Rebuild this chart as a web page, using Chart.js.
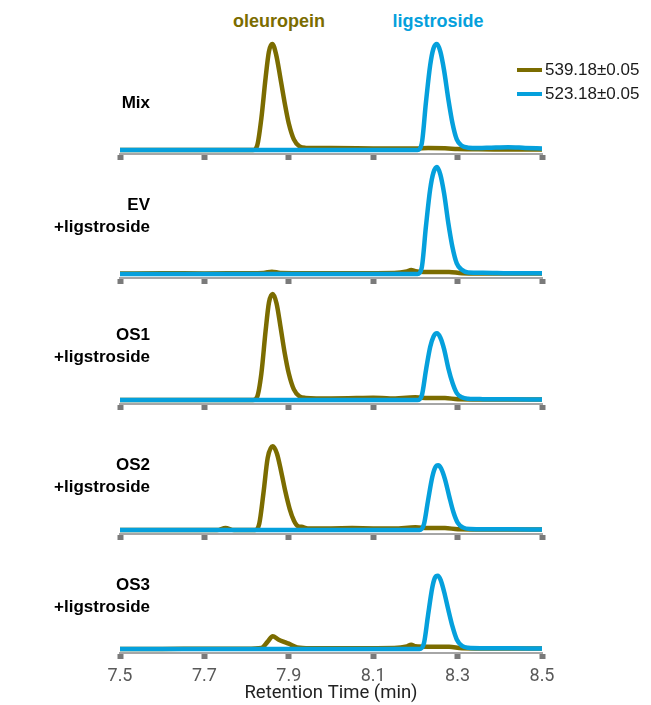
<!DOCTYPE html>
<html>
<head>
<meta charset="utf-8">
<title>Retention time traces</title>
<script src="https://cdn.jsdelivr.net/npm/chart.js@4.4.1/dist/chart.umd.min.js"></script>
<style>
 html,body{margin:0;padding:0;background:#fff;}
 #wrap{position:relative;width:651px;height:705px;overflow:hidden;font-family:"Liberation Sans",Arial,sans-serif;}
 #wrap canvas{position:absolute;left:0;}
 .plab{position:absolute;left:0;width:150px;text-align:right;font-weight:bold;font-size:17px;line-height:22px;color:#000;}
 .peak{position:absolute;font-weight:bold;font-size:18px;line-height:22px;transform:translateX(-50%);white-space:nowrap;}
 .leg{position:absolute;left:517px;height:22px;line-height:22px;font-size:17px;color:#1a1a1a;white-space:nowrap;}
 .leg i{display:inline-block;width:25px;height:4px;vertical-align:middle;margin-right:3px;position:relative;top:-1px;}
</style>
</head>
<body>
<div id="wrap"></div>
<script>
/* ---------------- data ---------------- */
const TICKS=[7.5,7.7,7.9,8.1,8.3,8.5];
const SERIES=["539.18\u00b10.05","523.18\u00b10.05"];
const PEAK_NAMES=["oleuropein","ligstroside"];
const PANEL_LABELS=[["Mix"],["EV","+ligstroside"],["OS1","+ligstroside"],["OS2","+ligstroside"],["OS3","+ligstroside"]];

// 539.18 (oleuropein) traces
const T_OLE_MIX=[7.50,7.60,7.70,7.80,7.815,7.825,7.835,7.845,7.853,7.861,7.870,7.880,7.890,7.900,7.912,7.925,7.94,8.00,8.10,8.20,8.23,8.27,8.30,8.35,8.40,8.50];
const Y_OLE_MIX=[0,0,0,0,0,4,30,68,93,100,90,68,45,25,10,3.5,2,1.8,1.5,1.3,1.8,1.6,1.0,0.6,0.5,0.4];
const T_OLE_EV=[7.50,7.60,7.70,7.80,7.84,7.86,7.88,7.95,8.05,8.15,8.18,8.19,8.20,8.22,8.28,8.31,8.40,8.50];
const Y_OLE_EV=[0.4,0.7,0.5,0.8,1.0,2.2,1.0,0.8,0.8,1.0,2.5,3.8,2.6,2.0,2.0,0.8,0.5,0.5];
const T_OLE_OS1=[7.50,7.60,7.70,7.80,7.815,7.825,7.835,7.845,7.853,7.862,7.871,7.880,7.890,7.900,7.912,7.925,7.94,8.00,8.06,8.10,8.14,8.20,8.23,8.27,8.30,8.40,8.50];
const Y_OLE_OS1=[0,0,0,0,0,3,25,65,92,100,91,70,45,25,10,3.5,2,1.5,1.8,2.2,1.5,2.5,1.8,1.8,0.8,0.5,0.4];
const T_OLE_OS2=[7.50,7.60,7.73,7.75,7.77,7.80,7.82,7.83,7.84,7.85,7.862,7.872,7.882,7.892,7.902,7.912,7.922,7.93,7.945,8.00,8.05,8.10,8.15,8.20,8.23,8.27,8.30,8.40,8.50];
const Y_OLE_OS2=[0,0,0,1.8,0,0,0,6,35,68,79,72,55,36,20,9,3.5,3,1.5,1.5,1.8,1.5,1.5,2.5,1.8,1.8,0.8,0.5,0.4];
const T_OLE_OS3=[7.50,7.60,7.70,7.80,7.835,7.85,7.862,7.875,7.89,7.90,7.92,7.95,8.05,8.15,8.18,8.19,8.20,8.23,8.28,8.31,8.40,8.50];
const Y_OLE_OS3=[0,0,0.3,0.3,1,7,12,9,6.5,5,1.5,0.8,0.8,1,2.5,4,2.5,2.2,2.2,0.8,0.5,0.4];

// 523.18 (ligstroside) traces
const T_LIG_MIX=[7.50,7.80,8.00,8.205,8.215,8.225,8.235,8.243,8.251,8.259,8.268,8.278,8.288,8.298,8.31,8.325,8.35,8.38,8.42,8.46,8.50];
const Y_LIG_MIX=[0,0,0,0,6,45,80,96,100,93,75,48,25,10,4,2.2,1.8,2.2,2.6,2.0,1.5];
const T_LIG_EV=[7.50,7.80,8.00,8.205,8.215,8.225,8.235,8.243,8.251,8.259,8.268,8.278,8.288,8.298,8.31,8.325,8.36,8.42,8.50];
const Y_LIG_EV=[0,0,0,0,6,45,80,96,101,94,76,48,25,10,4,1.5,1.2,0.8,0.6];
const T_LIG_OS1=[7.50,7.80,8.00,8.205,8.215,8.225,8.235,8.243,8.251,8.259,8.268,8.278,8.288,8.298,8.31,8.325,8.36,8.42,8.50];
const Y_LIG_OS1=[0,0,0,0,4,28,50,60,63,59,48,30,16,6.5,2.5,1.2,0.8,0.6,0.5];
const T_LIG_OS2=[7.50,7.80,8.00,8.21,8.22,8.23,8.24,8.247,8.254,8.261,8.27,8.28,8.29,8.30,8.312,8.33,8.37,8.42,8.50];
const Y_LIG_OS2=[0,0,0,0,5,28,50,59,61,58,48,32,17,7,2.5,1,0.8,0.6,0.5];
const T_LIG_OS3=[7.50,7.80,8.00,8.21,8.22,8.23,8.24,8.246,8.253,8.26,8.268,8.278,8.288,8.298,8.31,8.325,8.36,8.42,8.50];
const Y_LIG_OS3=[0,0,0,0,5,32,58,67,69,65,54,37,21,9,3,1.2,0.8,0.6,0.5];

const OLE=[[T_OLE_MIX,Y_OLE_MIX],[T_OLE_EV,Y_OLE_EV],[T_OLE_OS1,Y_OLE_OS1],[T_OLE_OS2,Y_OLE_OS2],[T_OLE_OS3,Y_OLE_OS3]];
const LIG=[[T_LIG_MIX,Y_LIG_MIX],[T_LIG_EV,Y_LIG_EV],[T_LIG_OS1,Y_LIG_OS1],[T_LIG_OS2,Y_LIG_OS2],[T_LIG_OS3,Y_LIG_OS3]];

/* ---------------- layout ---------------- */
const COL_OLE="#7b6c00", COL_LIG="#05a0dc";
const AXIS_Y=[154,278,404,534,653];      // axis line of each panel (px)
const PLOT_H=120, PX_PER_UNIT=1.06, BASE_OFF=4;
const W=651, LEFT=120, RIGHT=542, H=705;

const pts=(t,y)=>t.map((x,i)=>({x,y:y[i]}));
const wrap=document.getElementById("wrap");

function panel(i){
 const last=i===AXIS_Y.length-1;
 const xh=last?(H-AXIS_Y[i]):10;
 const cv=document.createElement("canvas");
 cv.width=W; cv.height=PLOT_H+xh;
 cv.style.top=(AXIS_Y[i]-PLOT_H)+"px";
 wrap.appendChild(cv);
 const ymin=-BASE_OFF/PX_PER_UNIT;
 new Chart(cv,{type:"line",
  data:{datasets:[
   {label:SERIES[0],data:pts(...OLE[i]),borderColor:COL_OLE,order:2},
   {label:SERIES[1],data:pts(...LIG[i]),borderColor:COL_LIG,order:1}]},
  options:{responsive:false,animation:false,devicePixelRatio:1,
   layout:{padding:{left:LEFT,right:W-RIGHT,top:0,bottom:0}},
   elements:{point:{radius:0},line:{borderWidth:4.5,cubicInterpolationMode:"monotone",fill:false,borderJoinStyle:"round",borderCapStyle:"round"}},
   plugins:{legend:{display:false},tooltip:{enabled:false}},
   scales:{
    x:{type:"linear",min:7.5,max:8.5,
     afterBuildTicks:s=>{s.ticks=TICKS.map(v=>({value:v}));},
     afterFit:s=>{s.height=xh;},
     grid:{drawOnChartArea:false,drawTicks:true,tickLength:6,tickWidth:6,tickColor:"#7a7a7a"},
     border:{display:true,color:"#a6a6a6",width:2},
     ticks:{display:last,padding:7,color:"#595959",font:{family:"Roboto",size:18},callback:v=>v.toFixed(1),maxRotation:0},
     title:{display:last,text:"Retention Time (min)",color:"#222",font:{family:"Roboto",size:18.5},padding:{top:0,bottom:1}}},
    y:{display:false,min:ymin,max:ymin+PLOT_H/PX_PER_UNIT}
   }}});
}
AXIS_Y.forEach((_,i)=>panel(i));

/* ---------------- labels & legend ---------------- */
const LABEL_TOP=[92,194,324,454,574];
PANEL_LABELS.forEach((lines,i)=>{
 const d=document.createElement("div"); d.className="plab";
 d.style.top=LABEL_TOP[i]+"px"; d.innerHTML=lines.join("<br>"); wrap.appendChild(d);
});
[[PEAK_NAMES[0],279,COL_OLE],[PEAK_NAMES[1],438,COL_LIG]].forEach(([t,x,c])=>{
 const d=document.createElement("div"); d.className="peak";
 d.style.left=x+"px"; d.style.top="10px"; d.style.color=c; d.textContent=t; wrap.appendChild(d);
});
[[SERIES[0],COL_OLE,59],[SERIES[1],COL_LIG,83]].forEach(([t,c,y])=>{
 const d=document.createElement("div"); d.className="leg"; d.style.top=y+"px";
 d.innerHTML=`<i style="background:${c}"></i>${t}`; wrap.appendChild(d);
});
</script>
</body>
</html>
